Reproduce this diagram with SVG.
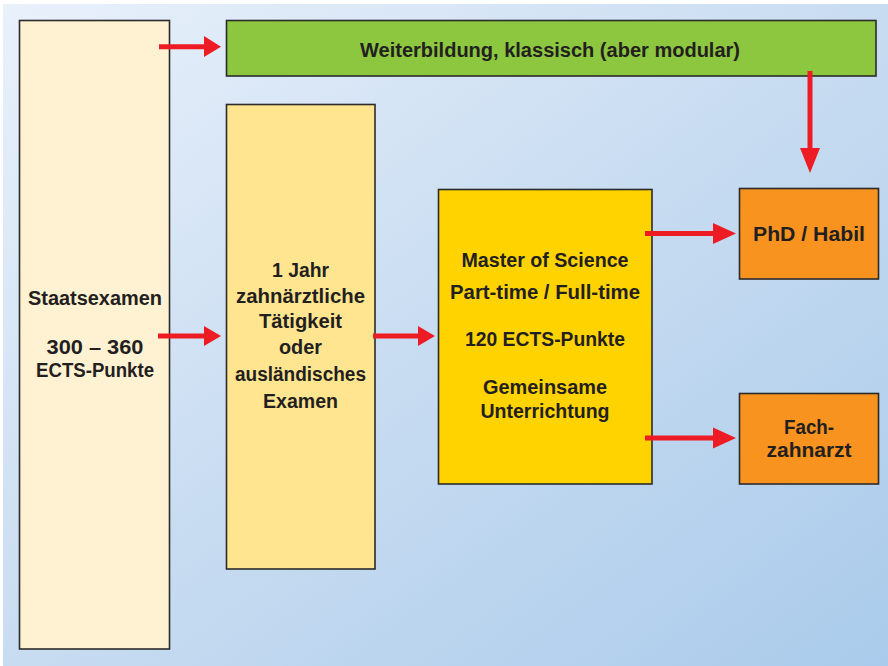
<svg xmlns="http://www.w3.org/2000/svg" width="888" height="666" viewBox="0 0 888 666">
<defs>
<linearGradient id="bg" x1="0" y1="0" x2="1" y2="1">
<stop offset="0" stop-color="#e9f1fb"/>
<stop offset="0.5" stop-color="#c8dcf1"/>
<stop offset="1" stop-color="#aacbeb"/>
</linearGradient>
<style>
.box{stroke:#2b2b2b;stroke-width:1.6}
.t{font-family:"Liberation Sans",Arial,sans-serif;font-weight:bold;font-size:20px;fill:#231f20;text-anchor:middle}
.ln{stroke:#ed1c24;stroke-width:5;fill:none}
.hd{fill:#ed1c24}
</style>
</defs>
<rect x="0" y="0" width="888" height="666" fill="#ffffff"/>
<rect x="3" y="4" width="885" height="662" fill="url(#bg)"/>

<g id="staatsexamen">
<rect class="box" x="19.5" y="20.5" width="150" height="628.5" fill="#fff2d3"/>
<text class="t" x="95" y="305" textLength="134" lengthAdjust="spacingAndGlyphs">Staatsexamen</text>
<text class="t" x="95" y="354" textLength="97" lengthAdjust="spacingAndGlyphs">300 – 360</text>
<text class="t" x="95" y="377" textLength="118" lengthAdjust="spacingAndGlyphs">ECTS-Punkte</text>
</g>

<g id="weiterbildung">
<rect class="box" x="226.5" y="20.5" width="649.5" height="55.5" fill="#8dc63f"/>
<text class="t" x="550" y="57" textLength="380" lengthAdjust="spacingAndGlyphs">Weiterbildung, klassisch (aber modular)</text>
</g>

<g id="jahr">
<rect class="box" x="226.5" y="104.5" width="148.5" height="464.5" fill="#ffe590"/>
<text class="t" x="300.5" y="277" textLength="57" lengthAdjust="spacingAndGlyphs">1 Jahr</text>
<text class="t" x="300.5" y="303" textLength="129" lengthAdjust="spacingAndGlyphs">zahnärztliche</text>
<text class="t" x="300.5" y="328" textLength="83" lengthAdjust="spacingAndGlyphs">Tätigkeit</text>
<text class="t" x="300.5" y="354" textLength="43" lengthAdjust="spacingAndGlyphs">oder</text>
<text class="t" x="300.5" y="381" textLength="131" lengthAdjust="spacingAndGlyphs">ausländisches</text>
<text class="t" x="300.5" y="408" textLength="75" lengthAdjust="spacingAndGlyphs">Examen</text>
</g>

<g id="master">
<rect class="box" x="438.5" y="189.5" width="213.5" height="294.5" fill="#ffd300"/>
<text class="t" x="545" y="267" textLength="167" lengthAdjust="spacingAndGlyphs">Master of Science</text>
<text class="t" x="545" y="299" textLength="190" lengthAdjust="spacingAndGlyphs">Part-time / Full-time</text>
<text class="t" x="545" y="346" textLength="160" lengthAdjust="spacingAndGlyphs">120 ECTS-Punkte</text>
<text class="t" x="545" y="394" textLength="124" lengthAdjust="spacingAndGlyphs">Gemeinsame</text>
<text class="t" x="545" y="418" textLength="129" lengthAdjust="spacingAndGlyphs">Unterrichtung</text>
</g>

<g id="phd">
<rect class="box" x="739.5" y="188.5" width="139" height="90.5" fill="#f7931e"/>
<text class="t" x="809" y="241" textLength="112" lengthAdjust="spacingAndGlyphs">PhD / Habil</text>
</g>

<g id="fachzahnarzt">
<rect class="box" x="739.5" y="393.5" width="139" height="90.5" fill="#f7931e"/>
<text class="t" x="809" y="434" textLength="50" lengthAdjust="spacingAndGlyphs">Fach-</text>
<text class="t" x="809" y="457" textLength="85" lengthAdjust="spacingAndGlyphs">zahnarzt</text>
</g>

<g id="connectors">
<line class="ln" x1="159" y1="46.7" x2="206" y2="46.7"/>
<polygon class="hd" points="204,36 221,46.7 204,57"/>
<line class="ln" x1="810" y1="71" x2="810" y2="150"/>
<polygon class="hd" points="800,148 820,148 810,173"/>
<line class="ln" x1="158" y1="336" x2="206" y2="336"/>
<polygon class="hd" points="204,326 221,336 204,346"/>
<line class="ln" x1="373" y1="336" x2="420" y2="336"/>
<polygon class="hd" points="418,326 435,336 418,346"/>
<line class="ln" x1="645" y1="233.5" x2="715" y2="233.5"/>
<polygon class="hd" points="713,223 736,233.5 713,244"/>
<line class="ln" x1="645" y1="438" x2="715" y2="438"/>
<polygon class="hd" points="713,427.5 736,438 713,448.5"/>
</g>
</svg>
